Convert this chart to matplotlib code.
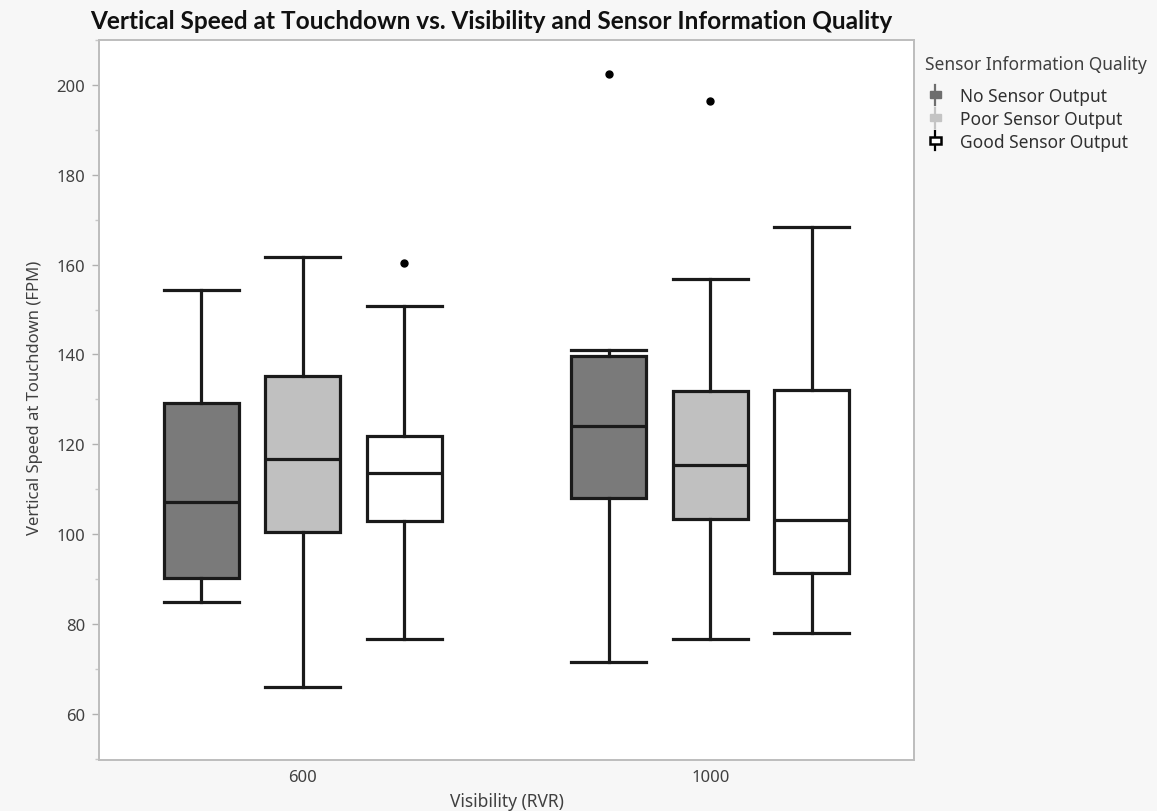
import matplotlib
matplotlib.use("Agg")
import matplotlib.pyplot as plt
from matplotlib.legend_handler import HandlerBase
from matplotlib.patches import Rectangle
from matplotlib.lines import Line2D
from matplotlib.ticker import MultipleLocator

plt.rcParams['font.family'] = ['Noto Sans', 'DejaVu Sans']

visibility = ["600", "1000"]
quality = ["No Sensor Output", "Poor Sensor Output", "Good Sensor Output"]

# Five-number summaries per visibility level, ordered by sensor quality
whisker_low = [[85.0, 65.9, 76.7], [71.6, 76.6, 78.0]]
q1 = [[90.2, 100.4, 103.0], [108.1, 103.4, 91.3]]
median = [[107.1, 116.7, 113.6], [124.0, 115.4, 103.1]]
q3 = [[129.2, 135.3, 121.9], [139.6, 131.8, 132.2]]
whisker_high = [[154.3, 161.8, 150.7], [141.1, 156.7, 168.3]]
outliers = [[[], [], [160.4]], [[202.5], [196.5], []]]

fills = ["#7a7a7a", "#c0c0c0", "#ffffff"]
edge = "#1a1a1a"
offsets = [-0.249, 0.0, 0.249]
box_w = 0.184

fig = plt.figure(figsize=(11.57, 8.12), dpi=100)
fig.patch.set_facecolor("#f7f7f7")
ax = fig.add_axes([0.0856, 0.0632, 0.7044, 0.8863])
ax.set_facecolor("white")

for g in range(len(visibility)):
    for k in range(len(quality)):
        stats = [dict(med=median[g][k], q1=q1[g][k], q3=q3[g][k],
                      whislo=whisker_low[g][k], whishi=whisker_high[g][k],
                      fliers=outliers[g][k], label=quality[k])]
        ax.bxp(stats, positions=[g + offsets[k]], widths=box_w,
               capwidths=box_w, patch_artist=True, manage_ticks=False,
               boxprops=dict(facecolor=fills[k], edgecolor=edge, linewidth=2.3),
               medianprops=dict(color=edge, linewidth=2.3),
               whiskerprops=dict(color=edge, linewidth=2.3),
               capprops=dict(color=edge, linewidth=2.3),
               flierprops=dict(marker="o", markersize=5, markerfacecolor="black",
                               markeredgecolor="black"))

ax.set_xlim(-0.5, 1.5)
ax.set_ylim(49.8, 210)
ax.set_xticks(range(len(visibility)))
ax.set_xticklabels(visibility)
ax.yaxis.set_major_locator(MultipleLocator(20))
ax.yaxis.set_minor_locator(MultipleLocator(10))
ax.tick_params(axis="x", length=0, pad=7, labelsize=12, labelcolor="#404040")
ax.tick_params(axis="y", which="major", length=5, width=1, color="#b0b0b0",
               labelsize=12, labelcolor="#404040", pad=5)
ax.tick_params(axis="y", which="minor", length=3, width=1, color="#c8c8c8")
for s in ax.spines.values():
    s.set_color("#bdbdbd")
    s.set_linewidth(1.4)

ax.set_ylabel("Vertical Speed at Touchdown (FPM)", fontsize=12, color="#404040")
ax.yaxis.set_label_coords(-0.069, 0.504)
ax.set_xlabel("Visibility (RVR)", fontsize=12.5, color="#404040", labelpad=5)
fig.text(0.425, 0.974, "Vertical Speed at Touchdown vs. Visibility and Sensor Information Quality",
         ha="center", va="center", fontsize=17.6, fontweight="bold", color="#111111",
         family=["Lato", "DejaVu Sans"])


class MiniBoxHandler(HandlerBase):
    def __init__(self, fill, ec, lw):
        super().__init__()
        self.fill, self.ec, self.lw = fill, ec, lw

    def create_artists(self, legend, orig_handle, xdescent, ydescent, width, height,
                       fontsize, trans):
        cx = width / 2 - xdescent
        cy = height / 2 - ydescent
        bw, bh = 8, 5
        line = Line2D([cx, cx], [cy - 7, cy + 7], color=self.ec, lw=1.6, transform=trans)
        rect = Rectangle((cx - bw / 2, cy - bh / 2), bw, bh, facecolor=self.fill,
                         edgecolor=self.ec, lw=self.lw, transform=trans)
        return [line, rect]


# Legend heading drawn separately so its gap to the entries can be set
fig.text(925 / 1157, 1 - 65 / 812, "Sensor Information Quality", ha="left", va="center",
         fontsize=12.5, color="#404040")

handles = [Line2D([], []) for _ in quality]
handler_map = {
    handles[0]: MiniBoxHandler("#6e6e6e", "#6e6e6e", 1.0),
    handles[1]: MiniBoxHandler("#c4c4c4", "#c4c4c4", 1.0),
    handles[2]: MiniBoxHandler("white", "black", 1.8),
}
leg = fig.legend(handles, quality, handler_map=handler_map, loc="upper left",
                 bbox_to_anchor=(0.801, 1 - 88 / 812), frameon=False, fontsize=12.5,
                 handlelength=1.0, handletextpad=0.9, labelspacing=0.28,
                 borderaxespad=0, borderpad=0)
for t in leg.get_texts():
    t.set_color("#303030")

fig.savefig("out.png", dpi=100, facecolor=fig.get_facecolor())
